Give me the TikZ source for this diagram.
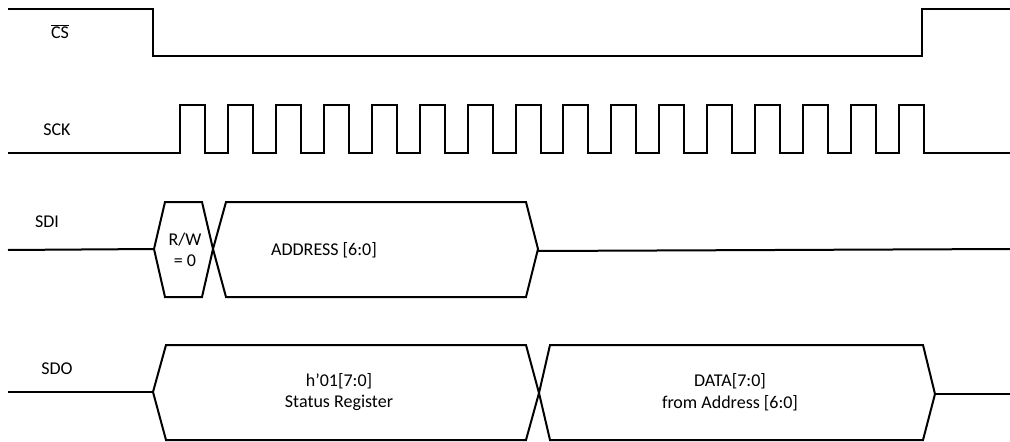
\documentclass[tikz,border=0pt]{standalone}
\usepackage{fontspec}
\setmainfont{Carlito}
\usetikzlibrary{positioning}

\begin{document}
\begin{tikzpicture}[x=1pt, y=-1pt, sig/.style={line width=2pt, line join=miter},
		every node/.style={font=\fontsize{18}{21.6}\selectfont, inner sep=0pt, align=center}]
		\useasboundingbox (0,0) rectangle (1010,442);
		% signal names
		\node (cslbl) at (60,32) {$\overline{\hbox{CS}}$};
		\node (scklbl) at (57,130) {SCK};
		\node (sdilbl) at (47,222) {SDI};
		\node (sdolbl) at (57,369) {SDO};
		% chip select
		\draw[sig] (8,9) -- (153,9) -- (153,56) -- (922,56) -- (922,9) -- (1010,9);
		% clock
		\draw[sig] (8,153) -- (180,153)
			\foreach \k in {0,...,15} {
				-- ({180+47.93*\k},153) -- ({180+47.93*\k},105) -- ({205+47.93*\k},105) -- ({205+47.93*\k},153)
			} -- (1010,153);
		% data in
		\draw[sig] (8,250) -- (154,249);
		\draw[sig] (154,249) -- (165,202) -- (202,202) -- (213,249) -- (202,297) -- (165,297) -- cycle;
		\node (rw) at (185,250) {R/W\\= 0};
		\draw[sig] (213,249) -- (226,202) -- (526,202) -- (538,249) -- (526,297) -- (226,297) -- cycle;
		\node (addr) at (324,250) {ADDRESS [6:0]};
		\draw[sig] (538,251) -- (1010,249);
		% data out
		\draw[sig] (8,392) -- (153,392);
		\draw[sig] (153,392) -- (166,345) -- (526,345) -- (539,393) -- (526,440) -- (166,440) -- cycle;
		\node (status) at (339,392) {h’01[7:0]\\Status Register};
		\draw[sig] (539,393) -- (550,345) -- (923,345) -- (935,394) -- (923,440) -- (550,440) -- cycle;
		\node (data) at (730,392) {DATA[7:0]\\from Address [6:0]};
		\draw[sig] (935,394) -- (1010,394);
	\end{tikzpicture}
\end{document}
